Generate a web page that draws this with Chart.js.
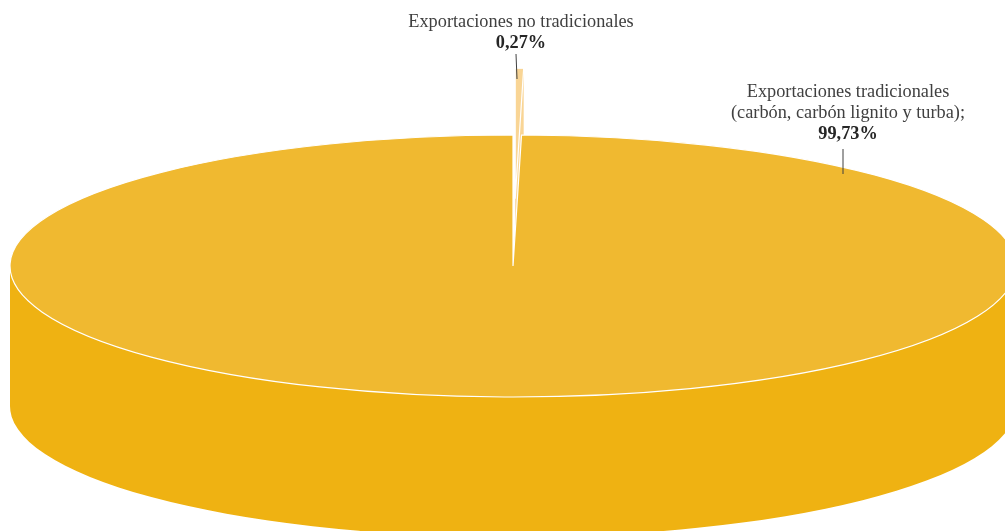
<!DOCTYPE html>
<html>
<head>
<meta charset="utf-8">
<script src="https://cdn.jsdelivr.net/npm/chart.js@4.4.1/dist/chart.umd.min.js"></script>
<style>
    html, body { margin: 0; padding: 0; background: #fff; }
    #wrap { width: 1005px; height: 531px; position: relative; }
</style>
</head>
<body>
<div id="wrap"><canvas id="pieChart"></canvas></div>
<script>
// Share of exports (%)
const categories = ['Exportaciones no tradicionales', 'Exportaciones tradicionales (carbón, carbón lignito y turba)'];
const shares = [0.27, 99.73];
const labelLines = [
    ['Exportaciones no tradicionales'],
    ['Exportaciones tradicionales', '(carbón, carbón lignito y turba);']
];
const topColors = ['#FAD99C', '#F0B930'];
const sideColors = ['#F9D595', '#EFB212'];

function formatPct(v) {
    return v.toFixed(2).replace('.', ',') + '%';
}

// map the flat pie onto the tilted ellipse
function applyEllipse(ctx, arc, o) {
    ctx.translate(o.cx, o.cy);
    ctx.scale(o.rx / arc.outerRadius, o.ry / arc.outerRadius);
    ctx.translate(-arc.x, -arc.y);
}

// same shift Chart.js uses for an offset (exploded) arc
function sliceShift(arc) {
    const off = (arc.options.offset || 0) / 4;
    const circ = arc.endAngle - arc.startAngle;
    const fix = 1 - Math.sin(Math.min(Math.PI, circ));
    const mid = (arc.startAngle + arc.endAngle) / 2;
    const s = off + off * fix;
    return { dx: Math.cos(mid) * s, dy: Math.sin(mid) * s };
}

function addSlice(ctx, arc) {
    const { dx, dy } = sliceShift(arc);
    ctx.moveTo(arc.x + dx, arc.y + dy);
    ctx.arc(arc.x + dx, arc.y + dy, arc.outerRadius, arc.startAngle, arc.endAngle);
    ctx.closePath();
}

const pie3d = {
    id: 'pie3d',
    beforeDatasetsDraw(chart, args, opts) {
        const ctx = chart.ctx;
        const arcs = chart.getDatasetMeta(0).data;
        // side wall: one path made of the slice repeated going down
        arcs.forEach((arc, i) => {
            ctx.save();
            ctx.beginPath();
            for (let d = opts.depth; d > 0; d--) {
                ctx.setTransform(1, 0, 0, 1, 0, d);
                applyEllipse(ctx, arc, opts);
                addSlice(ctx, arc);
            }
            ctx.setTransform(1, 0, 0, 1, 0, 0);
            ctx.fillStyle = sideColors[i];
            ctx.fill();
            ctx.restore();
        });
        // top faces are drawn by Chart.js under this transform
        ctx.save();
        applyEllipse(ctx, arcs[0], opts);
    },
    afterDatasetsDraw(chart, args, opts) {
        const ctx = chart.ctx;
        ctx.restore();
        chart.getDatasetMeta(0).data.forEach(arc => {
            ctx.save();
            applyEllipse(ctx, arc, opts);
            ctx.beginPath();
            addSlice(ctx, arc);
            ctx.restore();
            ctx.strokeStyle = '#ffffff';
            ctx.lineWidth = 1.2;
            ctx.stroke();
        });
    }
};

const sliceLabels = {
    id: 'sliceLabels',
    afterDraw(chart, args, opts) {
        const ctx = chart.ctx;
        ctx.save();
        ctx.textAlign = 'center';
        ctx.textBaseline = 'alphabetic';
        opts.anchors.forEach((a, i) => {
            let y = a.y;
            ctx.font = '18.3px "Liberation Serif", serif';
            ctx.fillStyle = '#404040';
            labelLines[i].forEach(line => {
                ctx.fillText(line, a.x, y);
                y += opts.lineGap;
            });
            ctx.font = 'bold 18.3px "Liberation Serif", serif';
            ctx.fillStyle = '#262626';
            ctx.fillText(formatPct(shares[i]), a.x, y);

            const l = opts.leaders[i];
            ctx.strokeStyle = '#404040';
            ctx.lineWidth = 1;
            ctx.beginPath();
            ctx.moveTo(l.x1, l.y1);
            ctx.lineTo(l.x2, l.y2);
            ctx.stroke();
        });
        ctx.restore();
    }
};

new Chart(document.getElementById('pieChart'), {
    type: 'pie',
    data: {
        labels: categories,
        datasets: [{
            data: shares,
            backgroundColor: topColors,
            borderWidth: 0,
            offset: [181, 0],
            clip: false
        }]
    },
    options: {
        responsive: true,
        maintainAspectRatio: false,
        animation: false,
        events: [],
        plugins: {
            legend: { display: false },
            tooltip: { enabled: false },
            pie3d: { cx: 513, cy: 266, rx: 503, ry: 131, depth: 140 },
            sliceLabels: {
                anchors: [{ x: 521, y: 27 }, { x: 848, y: 97 }],
                lineGap: 21,
                leaders: [
                    { x1: 516, y1: 54, x2: 517, y2: 79 },
                    { x1: 843, y1: 149, x2: 843, y2: 174 }
                ]
            }
        }
    },
    plugins: [pie3d, sliceLabels]
});
</script>
</body>
</html>
